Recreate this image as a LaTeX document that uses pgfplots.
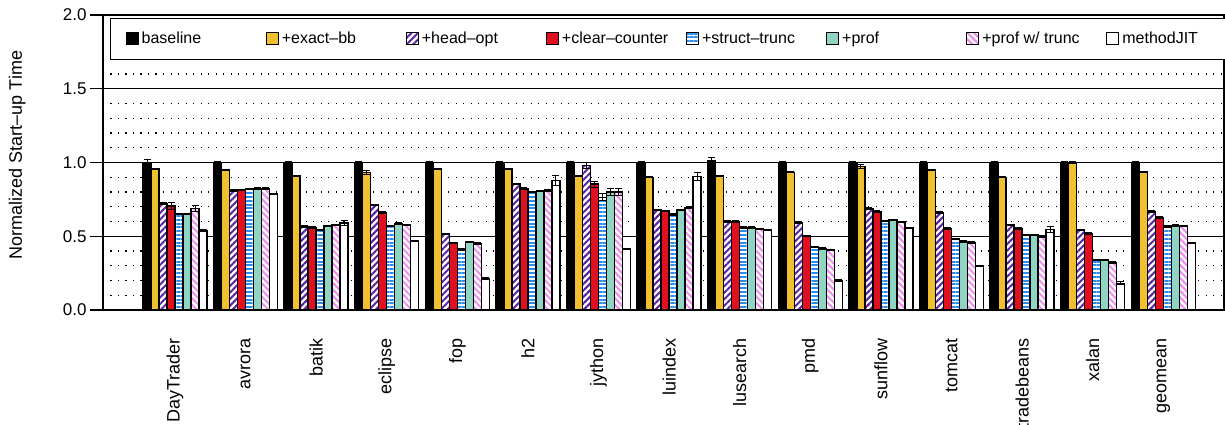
\documentclass[border=0pt]{standalone}
\usepackage{fontspec}
\setmainfont{Liberation Sans}
\usepackage{pgfplots}
\pgfplotsset{compat=1.18}
\usepackage{pgfplotstable}
\usetikzlibrary{patterns.meta}

\definecolor{cgold}{HTML}{F0C030}
\definecolor{cpurple}{HTML}{5A1FA8}
\definecolor{cred}{HTML}{E01020}
\definecolor{cblue}{HTML}{2A8CF0}
\definecolor{cteal}{HTML}{90D4C4}
\definecolor{cpink}{HTML}{F08CF0}

\newcommand{\legtxt}[1]{\makebox[121pt][l]{#1}}

\pgfplotstableread{
x y e
0 1.00 0.020
1 1.00 0.005
2 1.00 0.005
3 1.00 0.005
4 1.00 0.005
5 1.00 0.005
6 1.00 0.005
7 1.00 0.005
8 1.01 0.025
9 1.00 0.005
10 1.00 0.008
11 1.00 0.005
12 1.00 0.005
13 1.00 0.005
14 1.00 0.005
}\tbase
\pgfplotstableread{
x y e
0 0.955 0.005
1 0.950 0.005
2 0.910 0.005
3 0.932 0.015
4 0.955 0.005
5 0.957 0.005
6 0.910 0.005
7 0.900 0.005
8 0.909 0.005
9 0.934 0.005
10 0.973 0.015
11 0.948 0.005
12 0.900 0.005
13 0.998 0.008
14 0.937 0.005
}\texact
\pgfplotstableread{
x y e
0 0.723 0.005
1 0.810 0.005
2 0.565 0.005
3 0.712 0.005
4 0.517 0.005
5 0.853 0.005
6 0.980 0.020
7 0.678 0.005
8 0.600 0.005
9 0.594 0.005
10 0.689 0.005
11 0.660 0.005
12 0.576 0.005
13 0.542 0.005
14 0.667 0.005
}\thead
\pgfplotstableread{
x y e
0 0.705 0.027
1 0.814 0.005
2 0.560 0.005
3 0.662 0.005
4 0.456 0.005
5 0.825 0.005
6 0.853 0.020
7 0.670 0.005
8 0.600 0.005
9 0.503 0.005
10 0.667 0.005
11 0.553 0.005
12 0.553 0.005
13 0.520 0.005
14 0.626 0.005
}\tclear
\pgfplotstableread{
x y e
0 0.650 0.005
1 0.820 0.005
2 0.542 0.005
3 0.569 0.005
4 0.410 0.005
5 0.800 0.005
6 0.764 0.025
7 0.646 0.005
8 0.558 0.005
9 0.426 0.005
10 0.605 0.005
11 0.483 0.005
12 0.508 0.005
13 0.338 0.005
14 0.565 0.005
}\tstruct
\pgfplotstableread{
x y e
0 0.650 0.005
1 0.823 0.005
2 0.571 0.005
3 0.587 0.005
4 0.460 0.005
5 0.805 0.005
6 0.800 0.025
7 0.678 0.005
8 0.560 0.005
9 0.417 0.005
10 0.610 0.005
11 0.465 0.005
12 0.508 0.005
13 0.338 0.005
14 0.574 0.005
}\tprof
\pgfplotstableread{
x y e
0 0.690 0.020
1 0.823 0.005
2 0.576 0.005
3 0.578 0.005
4 0.450 0.005
5 0.810 0.005
6 0.800 0.025
7 0.696 0.005
8 0.550 0.005
9 0.406 0.005
10 0.596 0.005
11 0.458 0.005
12 0.497 0.005
13 0.322 0.005
14 0.569 0.005
}\tproftr
\pgfplotstableread{
x y e
0 0.540 0.005
1 0.787 0.005
2 0.590 0.020
3 0.469 0.005
4 0.215 0.005
5 0.878 0.035
6 0.415 0.005
7 0.905 0.025
8 0.542 0.005
9 0.200 0.005
10 0.556 0.005
11 0.300 0.005
12 0.546 0.020
13 0.180 0.010
14 0.455 0.005
}\tjit

\begin{document}
\begin{tikzpicture}
\begin{axis}[
  scale only axis,
  width=1121pt, height=295pt,
  xmin=-1.02, xmax=14.86,
  ymin=0, ymax=2,
  ybar=0pt, bar width=8pt,
  every axis plot/.append style={
    draw=black, line width=1.4pt,
    legend image code/.code={\draw[##1, line width=1.1pt] (0pt,-6pt) rectangle (12pt,6pt);},
    /pgfplots/error bars/y dir=both,
    /pgfplots/error bars/y explicit,
    /pgfplots/error bars/error bar style={black, line width=1pt},
    /pgfplots/error bars/error mark options={black, rotate=90, mark size=3.5pt, line width=1pt},
  },
  font=\fontsize{17}{20}\selectfont,
  axis line style={line width=1.3pt},
  xtick={0,...,14},
  xticklabels={DayTrader,avrora,batik,eclipse,fop,h2,jython,luindex,lusearch,pmd,sunflow,tomcat,tradebeans,xalan,geomean},
  xticklabel style={rotate=90, anchor=east, xshift=-12pt, font=\fontsize{18}{20}\selectfont},
  x tick style={draw=none},
  ytick={0,0.5,1,1.5,2},
  minor ytick={0.1,0.2,0.3,0.4,0.6,0.7,0.8,0.9,1.1,1.2,1.3,1.4,1.6,1.7,1.8,1.9},
  ytick pos=left,
  tick align=outside,
  major tick length=13pt,
  minor tick length=0pt,
  y tick style={line width=1.3pt, black},
  yticklabel style={/pgf/number format/.cd, fixed, fixed zerofill, precision=1, assume math mode=true},
  ymajorgrids, yminorgrids,
  major grid style={black, line width=1.2pt},
  minor grid style={black, line width=1.3pt, dash pattern=on 1.3pt off 6.2pt},
  ylabel={Normalized Start\textendash up Time},
  ylabel style={at={(axis description cs:-0.0765,0.525)}, anchor=center, font=\fontsize{18}{20}\selectfont},
  legend columns=8,
  legend cell align=left,
  legend style={at={(axis description cs:0.00624,0.9915)}, anchor=north west,
    draw=black, line width=1.2pt, fill=white,
    font=\fontsize{16}{18}\selectfont,
    inner xsep=15pt, inner ysep=12pt,
    nodes={inner xsep=3pt}},
]
\addplot[fill=black] table[x=x,y=y,y error=e] {\tbase};
\addlegendentry{\legtxt{baseline}}
\addplot[fill=cgold] table[x=x,y=y,y error=e] {\texact};
\addlegendentry{\legtxt{+exact\textendash bb}}
\addplot[fill=white, postaction={pattern={Lines[angle=45,distance=4.6pt,line width=2pt]}, pattern color=cpurple}] table[x=x,y=y,y error=e] {\thead};
\addlegendentry{\legtxt{+head\textendash opt}}
\addplot[fill=cred] table[x=x,y=y,y error=e] {\tclear};
\addlegendentry{\legtxt{+clear\textendash counter}}
\addplot[fill=white, postaction={pattern={Lines[angle=0,distance=3.8pt,line width=1.9pt]}, pattern color=cblue}] table[x=x,y=y,y error=e] {\tstruct};
\addlegendentry{\legtxt{+struct\textendash trunc}}
\addplot[fill=cteal] table[x=x,y=y,y error=e] {\tprof};
\addlegendentry{\legtxt{+prof}}
\addplot[fill=white, postaction={pattern={Lines[angle=-45,distance=4.6pt,line width=2pt]}, pattern color=cpink}] table[x=x,y=y,y error=e] {\tproftr};
\addlegendentry{\legtxt{+prof w/ trunc}}
\addplot[fill=white] table[x=x,y=y,y error=e] {\tjit};
\addlegendentry{\legtxt{methodJIT}}
\end{axis}
\pgfresetboundingbox
\useasboundingbox ([xshift=-103pt,yshift=-115pt]current axis.south west) rectangle ([xshift=1pt,yshift=15pt]current axis.north east);
\end{tikzpicture}
\end{document}
